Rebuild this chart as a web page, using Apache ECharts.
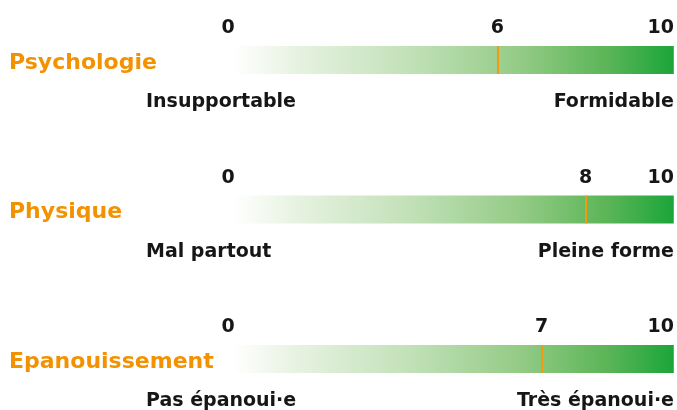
<!DOCTYPE html>
<html>
<head>
<meta charset="utf-8">
<script src="https://cdn.jsdelivr.net/npm/echarts@6/dist/echarts.min.js"></script>
<style>
  html, body { margin: 0; padding: 0; background: #fff; }
  #chart { width: 677px; height: 410px; }
</style>
</head>
<body>
<div id="chart"></div>
<script>
const categories = ['Psychologie', 'Physique', 'Epanouissement'];
const scores = [6, 8, 7];
const scaleMin = 0;
const scaleMax = 10;
const lowLabels = ['Insupportable', 'Mal partout', 'Pas épanoui·e'];
const highLabels = ['Formidable', 'Pleine forme', 'Très épanoui·e'];

const FONT = 'DejaVu Sans';
const ORANGE = '#f39200';
const TEXT = '#161616';

const grid = [];
const xAxis = [];
const yAxis = [];
const series = [];
const title = [];

categories.forEach((name, i) => {
  const barTop = 46 + i * 149.5;
  grid.push({ left: 233, right: 1, top: barTop, height: 28 });
  xAxis.push({
    gridIndex: i,
    type: 'value',
    position: 'top',
    min: scaleMin,
    max: scaleMax,
    axisLine: { show: false },
    axisTick: { show: false },
    splitLine: { show: false },
    axisLabel: {
      customValues: [scaleMin, scores[i], scaleMax],
      margin: 8,
      formatter: (v) => {
        if (v === scaleMin) return '{first|' + v + '}';
        if (v === scaleMax) return '{last|' + v + '}';
        return '{mid|' + v + '}';
      },
      rich: {
        first: { fontFamily: FONT, fontWeight: 'bold', fontSize: 19, color: TEXT, padding: [0, 10, 0, 0] },
        mid: { fontFamily: FONT, fontWeight: 'bold', fontSize: 19, color: TEXT },
        last: { fontFamily: FONT, fontWeight: 'bold', fontSize: 19, color: TEXT, padding: [0, 26, 0, 0] },
      },
    },
  });
  yAxis.push({
    gridIndex: i,
    type: 'category',
    data: [name],
    axisLine: { show: false },
    axisTick: { show: false },
    axisLabel: {
      align: 'left',
      margin: 224,
      formatter: (v) => '{n|' + v + '}',
      rich: {
        n: { color: ORANGE, fontFamily: FONT, fontWeight: 'bold', fontSize: 22, padding: [6, 0, 0, 0] },
      },
    },
  });
  series.push({
    type: 'bar',
    xAxisIndex: i,
    yAxisIndex: i,
    barWidth: '100%',
    silent: true,
    data: [scaleMax],
    itemStyle: {
      color: new echarts.graphic.LinearGradient(0, 0, 1, 0, [
        { offset: 0, color: '#ffffff' },
        { offset: 0.15, color: '#e6f2e0' },
        { offset: 0.4, color: '#c2e1b8' },
        { offset: 0.65, color: '#94cb86' },
        { offset: 0.85, color: '#5bb557' },
        { offset: 1, color: '#1ba53a' },
      ]),
    },
    markLine: {
      silent: true,
      symbol: 'none',
      label: { show: false },
      lineStyle: { color: '#f29a10', width: 2, type: 'solid' },
      data: [{ xAxis: scores[i] }],
    },
  });
  title.push({
    text: lowLabels[i],
    left: 146,
    top: barTop + 47,
    padding: 0,
    textStyle: { fontFamily: FONT, fontWeight: 'bold', fontSize: 19, color: TEXT },
  });
  title.push({
    text: highLabels[i],
    right: 3,
    top: barTop + 47,
    padding: 0,
    textStyle: { fontFamily: FONT, fontWeight: 'bold', fontSize: 19, color: TEXT },
  });
});

const chart = echarts.init(document.getElementById('chart'));
chart.setOption({
  animation: false,
  title,
  grid,
  xAxis,
  yAxis,
  series,
});
</script>
</body>
</html>
